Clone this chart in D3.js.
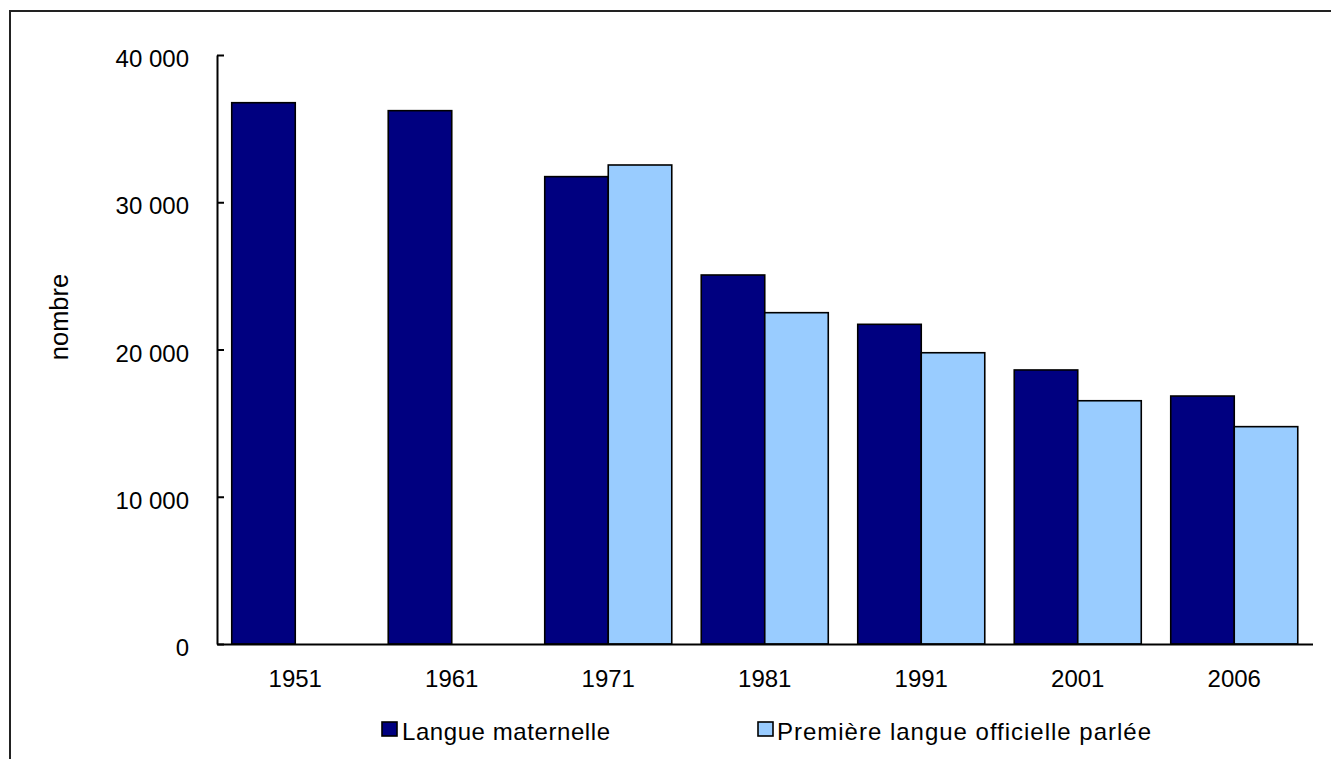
<!DOCTYPE html>
<html>
<head>
<meta charset="utf-8">
<script src="https://cdn.jsdelivr.net/npm/d3@7"></script>
<style>
  html, body { margin: 0; padding: 0; background: #fff; }
  svg { display: block; }
  text { font-family: "Liberation Sans", Arial, sans-serif; fill: #000; }
</style>
</head>
<body>
<svg id="chart" width="1331" height="759"></svg>
<script>
const years = ["1951", "1961", "1971", "1981", "1991", "2001", "2006"];
const seriesNames = ["Langue maternelle", "Première langue officielle parlée"];
const langueMaternelle = [36760, 36220, 31740, 25060, 21710, 18610, 16840];
const premiereLangue = [null, null, 32530, 22500, 19780, 16520, 14760];
const yTicks = [0, 10000, 20000, 30000, 40000];
const yTitle = "nombre";
const colors = ["#000080", "#99CCFF"];

(function () {
const svg = d3.select("#chart");
const plotL = 217, plotR = 1312.5, plotT = 55, plotB = 644;
const FS = 24;

// outer frame (only top and left edges visible)
svg.append("rect")
  .attr("x", 10).attr("y", 11)
  .attr("width", 1400).attr("height", 900)
  .attr("fill", "none").attr("stroke", "#222").attr("stroke-width", 2);

const x0 = d3.scaleBand().domain(years).range([plotL, plotR]).paddingInner(0).paddingOuter(0);
const x1 = d3.scaleBand().domain(seriesNames).range([0, x0.bandwidth()]).paddingInner(0).paddingOuter(0.232);
const y = d3.scaleLinear().domain([0, 40000]).range([plotB, plotT]);

const loc = d3.formatLocale({ decimal: ",", thousands: " ", grouping: [3], currency: ["", ""] });
const fmt = loc.format(",");

const rows = years.map((yr, i) => ({ year: yr, values: [langueMaternelle[i], premiereLangue[i]] }));

// bars
const g = svg.append("g");
rows.forEach(r => {
  r.values.forEach((v, k) => {
    if (v == null) return;
    g.append("rect")
      .attr("x", x0(r.year) + x1(seriesNames[k]))
      .attr("y", y(v))
      .attr("width", x1.bandwidth())
      .attr("height", y(0) - y(v))
      .attr("fill", colors[k])
      .attr("stroke", "#000")
      .attr("stroke-width", 1.6);
  });
});

// y axis
const yAxis = d3.axisLeft(y).tickValues(yTicks).tickFormat(fmt)
  .tickSizeInner(-7).tickSizeOuter(0).tickPadding(28);
const ya = svg.append("g").attr("transform", `translate(${plotL},0)`).call(yAxis);
ya.select(".domain").attr("stroke", "#000").attr("stroke-width", 2);
ya.selectAll(".tick line").attr("stroke", "#000").attr("stroke-width", 2);
ya.selectAll(".tick text").attr("font-size", FS).attr("font-family", "Liberation Sans, Arial, sans-serif")
  .attr("dy", "0.48em").attr("fill", "#000");

// x axis
const xAxis = d3.axisBottom(x0).tickSize(0).tickSizeOuter(0).tickPadding(26);
const xa = svg.append("g").attr("transform", `translate(0,${plotB})`).call(xAxis);
xa.select(".domain").attr("stroke", "#000").attr("stroke-width", 2);
xa.selectAll(".tick text").attr("font-size", FS).attr("font-family", "Liberation Sans, Arial, sans-serif").attr("fill", "#000");

// y title
svg.append("text")
  .attr("transform", `translate(68,317) rotate(-90)`)
  .attr("text-anchor", "middle")
  .attr("font-size", 25.5)
  .text(yTitle);

// legend
const legendItems = [
  { name: seriesNames[0], color: colors[0], sx: 382, tx: 402, w: 208 },
  { name: seriesNames[1], color: colors[1], sx: 758, tx: 777, w: 374 }
];
const lg = svg.append("g");
legendItems.forEach(it => {
  lg.append("rect").attr("x", it.sx).attr("y", 722).attr("width", 15).attr("height", 14)
    .attr("fill", it.color).attr("stroke", "#000").attr("stroke-width", 1.6);
  lg.append("text").attr("x", it.tx).attr("y", 739.5).attr("font-size", FS)
    .attr("textLength", it.w).attr("lengthAdjust", "spacing")
    .text(it.name);
});
})();
</script>
</body>
</html>
